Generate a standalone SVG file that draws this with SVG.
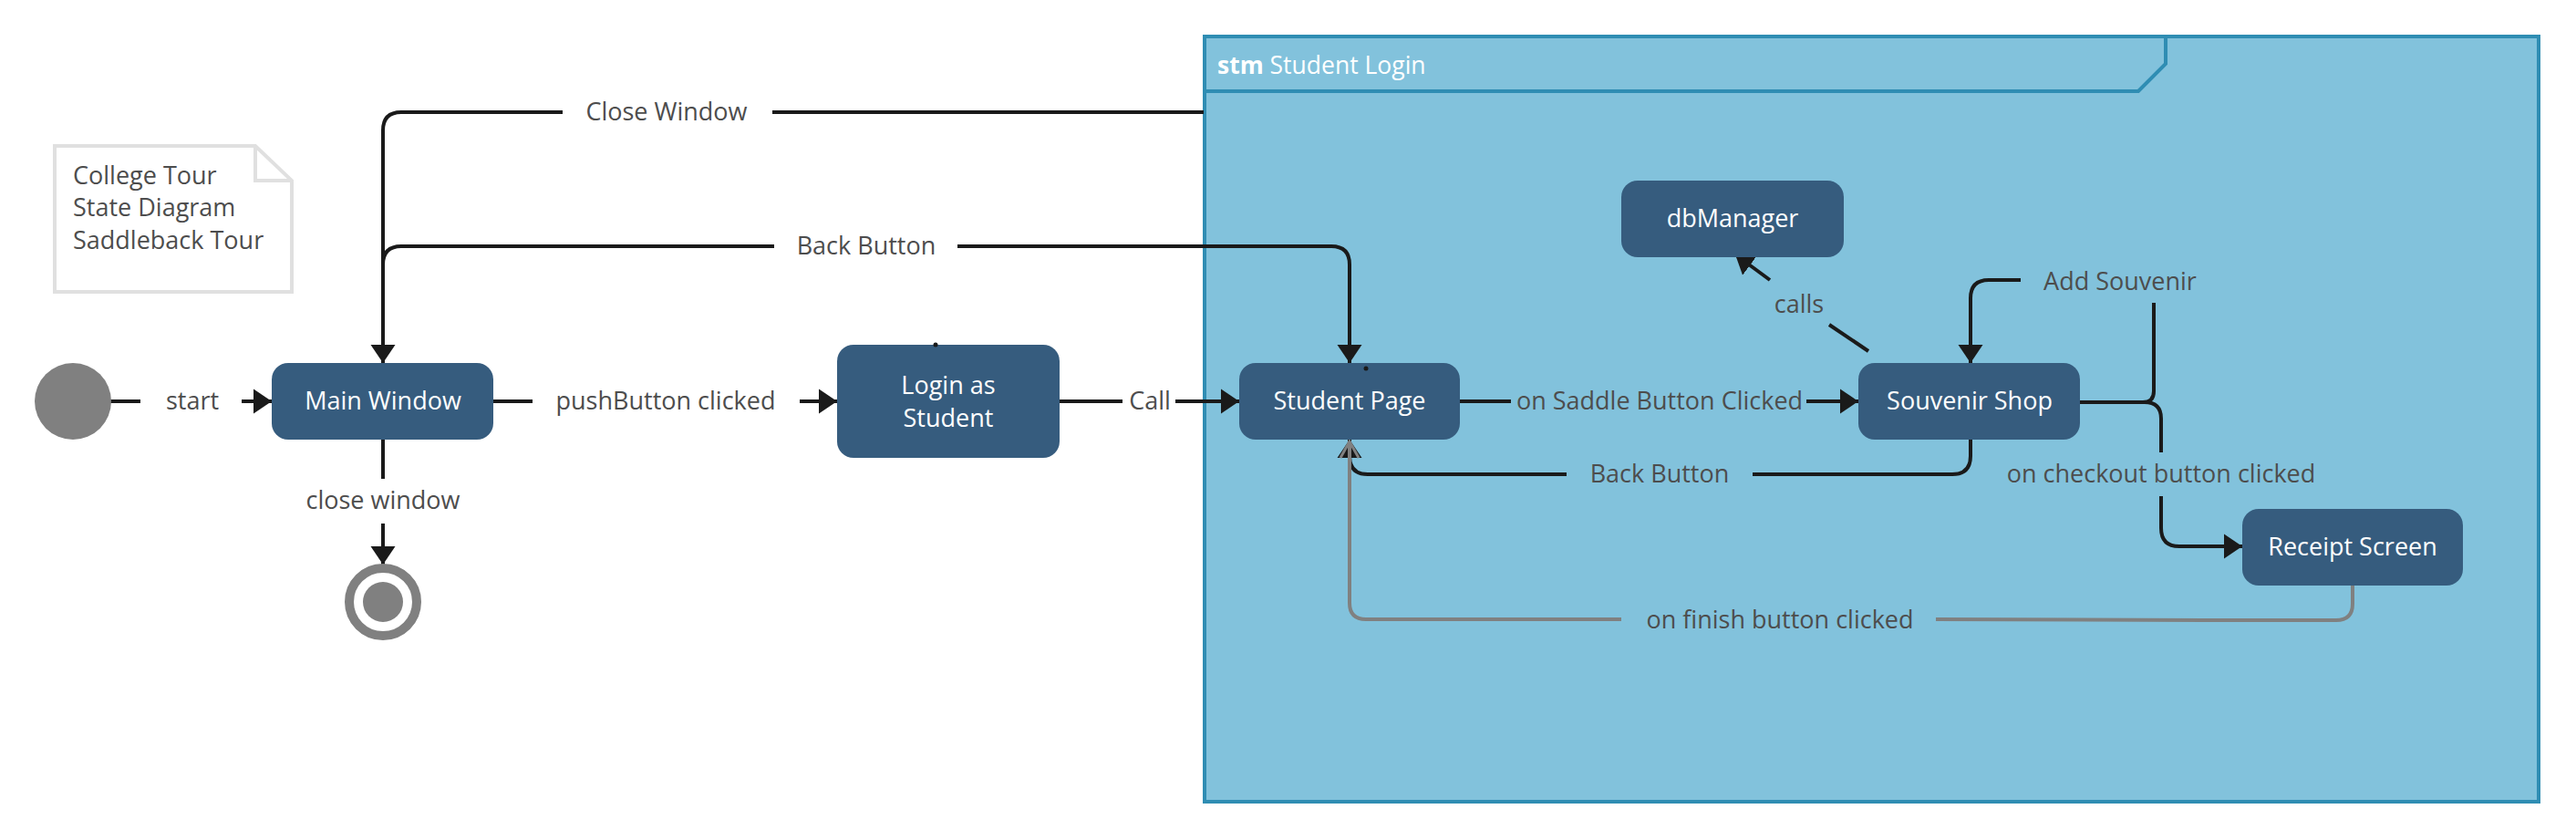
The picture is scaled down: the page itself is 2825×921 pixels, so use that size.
<svg xmlns="http://www.w3.org/2000/svg" width="2825" height="921" viewBox="0 0 2825 921">
<style>
.st{fill:#365c7e}
.nt{fill:#ffffff;font-family:"Open Sans","Noto Sans",sans-serif;font-size:27px;font-weight:500;text-anchor:middle}
.lb{fill:#4d4d4d;font-family:"Open Sans","Noto Sans",sans-serif;font-size:27px;text-anchor:middle}
.nn{fill:#4d4d4d;font-family:"Open Sans","Noto Sans",sans-serif;font-size:27px}
.ln{fill:none;stroke:#1a1a1a;stroke-width:4}
.gl{fill:none;stroke:#808080;stroke-width:4}
</style>
<defs>
<marker id="ah" markerUnits="userSpaceOnUse" markerWidth="22" markerHeight="28" refX="20" refY="14" orient="auto">
<path d="M0,0.5 L20,14 L0,27.5 z" fill="#1a1a1a"/>
</marker>
</defs>
<rect x="0" y="0" width="2825" height="921" fill="#ffffff"/>

<g id="frame">
<rect x="1321" y="40" width="1463" height="839" fill="#82c2dc" stroke="#2f8db3" stroke-width="4"/>
<path d="M1321,100 L2345,100 L2375,70 L2375,40" fill="none" stroke="#2f8db3" stroke-width="4"/>
<text x="1335" y="81" fill="#ffffff" font-family="'Open Sans','Noto Sans',sans-serif" font-size="26.5"><tspan font-weight="700">stm</tspan> Student Login</text>
</g>

<g id="note">
<path d="M60,160 L280,160 L320,198 L320,320 L60,320 Z" fill="#ffffff" stroke="#e0e0e0" stroke-width="4"/>
<path d="M280,160 L280,198 L320,198" fill="none" stroke="#e0e0e0" stroke-width="4"/>
<text class="nn" x="80" y="202">College Tour</text>
<text class="nn" x="80" y="237">State Diagram</text>
<text class="nn" x="80" y="273">Saddleback Tour</text>
</g>

<g id="connectors">
<!-- start -->
<path class="ln" d="M121,440 L154,440"/>
<text class="lb" x="211" y="449">start</text>
<path class="ln" d="M265,440 L298,440" marker-end="url(#ah)"/>
<!-- pushButton clicked -->
<path class="ln" d="M541,440 L584,440"/>
<text class="lb" x="730" y="449">pushButton clicked</text>
<path class="ln" d="M877,440 L918,440" marker-end="url(#ah)"/>
<!-- Call -->
<path class="ln" d="M1162,440 L1231,440"/>
<text class="lb" x="1261" y="449">Call</text>
<path class="ln" d="M1289,440 L1359,440" marker-end="url(#ah)"/>
<!-- on Saddle Button Clicked -->
<path class="ln" d="M1601,440 L1657,440"/>
<text class="lb" x="1820" y="449">on Saddle Button Clicked</text>
<path class="ln" d="M1981,440 L2038,440" marker-end="url(#ah)"/>
<!-- Close Window -->
<path class="ln" d="M1320,123 L847,123"/>
<text class="lb" x="731" y="132">Close Window</text>
<path class="ln" d="M617,123 L440,123 Q420,123 420,143 L420,398" marker-end="url(#ah)"/>
<!-- Back Button (top) -->
<path class="ln" d="M420,290 Q420,270 440,270 L849,270"/>
<text class="lb" x="950" y="279">Back Button</text>
<path class="ln" d="M1050,270 L1460,270 Q1480,270 1480,290 L1480,398" marker-end="url(#ah)"/>
<!-- close window -->
<path class="ln" d="M420,482 L420,525"/>
<text class="lb" x="420" y="558">close window</text>
<path class="ln" d="M420,574 L420,619" marker-end="url(#ah)"/>
<!-- calls -->
<path class="ln" d="M2049,385 L2006,356"/>
<text class="lb" x="1973" y="343">calls</text>
<path class="ln" d="M1941,307 L1903,279" marker-end="url(#ah)"/>
<!-- Add Souvenir -->
<path class="ln" d="M2281,441 L2350,441 Q2362,441 2362,429 L2362,332"/>
<text class="lb" x="2325" y="318">Add Souvenir</text>
<path class="ln" d="M2216,307 L2181,307 Q2161,307 2161,327 L2161,398" marker-end="url(#ah)"/>
<!-- on checkout button clicked -->
<path class="ln" d="M2340,441 L2352,441 Q2370,441 2370,459 L2370,496"/>
<text class="lb" x="2370" y="529">on checkout button clicked</text>
<path class="ln" d="M2370,544 L2370,579 Q2370,599 2390,599 L2459,599" marker-end="url(#ah)"/>
<!-- Back Button (bottom) -->
<path class="ln" d="M2161,482 L2161,500 Q2161,520 2141,520 L1922,520"/>
<text class="lb" x="1820" y="529">Back Button</text>
<path class="ln" d="M1718,520 L1500,520 Q1480,520 1480,500 L1480,482" marker-end="url(#ah)"/>
<!-- on finish button clicked -->
<path class="gl" d="M2580,642 L2580,662 Q2580,680 2562,680 L2416,680 L2123,679"/>
<text class="lb" x="1952" y="689">on finish button clicked</text>
<path class="gl" d="M1778,679 L1498,679 Q1480,679 1480,661 L1480,484"/>
<path d="M1470,502 L1480,484 L1490,502" fill="none" stroke="#808080" stroke-width="3"/>
</g>

<g id="initial">
<circle cx="80" cy="440" r="42" fill="#808080"/>
</g>
<g id="final">
<circle cx="420" cy="660" r="37" fill="#ffffff" stroke="#808080" stroke-width="10"/>
<circle cx="420" cy="660" r="22" fill="#808080"/>
</g>
<g id="main-window">
<rect class="st" x="298" y="398" width="243" height="84" rx="18"/>
<text class="nt" x="420" y="449">Main Window</text>
</g>
<g id="login-as-student">
<rect class="st" x="918" y="378" width="244" height="124" rx="18"/>
<text class="nt" x="1040" y="432">Login as</text>
<text class="nt" x="1040" y="468">Student</text>
<circle cx="1026" cy="378" r="2.5" fill="#1a1a1a"/>
</g>
<g id="student-page">
<rect class="st" x="1359" y="398" width="242" height="84" rx="18"/>
<text class="nt" x="1480" y="449">Student Page</text>
<circle cx="1498" cy="404" r="2.5" fill="#1a1a1a"/>
</g>
<g id="db-manager">
<rect class="st" x="1778" y="198" width="244" height="84" rx="18"/>
<text class="nt" x="1900" y="249">dbManager</text>
</g>
<g id="souvenir-shop">
<rect class="st" x="2038" y="398" width="243" height="84" rx="18"/>
<text class="nt" x="2160" y="449">Souvenir Shop</text>
</g>
<g id="receipt-screen">
<rect class="st" x="2459" y="558" width="242" height="84" rx="18"/>
<text class="nt" x="2580" y="609">Receipt Screen</text>
</g>
</svg>
